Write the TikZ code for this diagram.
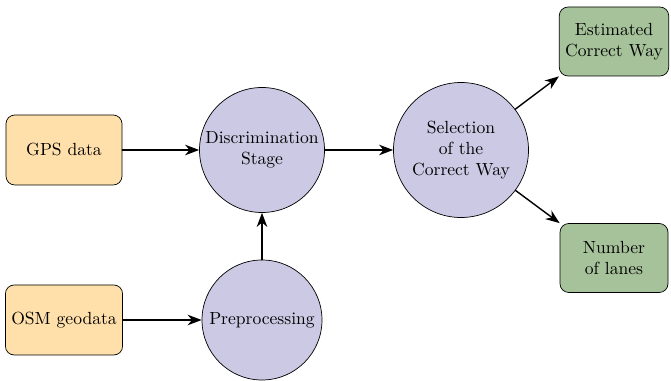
\documentclass[tikz,border=0pt]{standalone}
\usepackage{tikz}
\usetikzlibrary{arrows.meta}
\definecolor{inbox}{RGB}{255,224,170}
\definecolor{stage}{RGB}{204,201,228}
\definecolor{outbox}{RGB}{166,194,154}
\tikzset{
  inputbox/.style={draw=black,fill=inbox,rounded corners=5pt,minimum width=2.32cm,minimum height=1.4cm,align=center},
  outputbox/.style={draw=black,fill=outbox,rounded corners=5pt,minimum width=2.16cm,minimum height=1.38cm,align=center},
  stagecircle/.style={draw=black,fill=stage,circle,minimum size=2.4cm,inner sep=1pt,align=center},
  flow/.style={->,thick,>={Stealth[length=8pt,width=6pt,inset=2.5pt]}}
}
\begin{document}
\begin{tikzpicture}[line cap=round,line join=round,x=1.0cm,y=1.0cm]
    \useasboundingbox (0,0) rectangle (13.42,7.62);
    % inputs
    \node[inputbox] (gps) at (1.28,4.62) {GPS data};
    \node[inputbox] (osm) at (1.28,1.22) {OSM geodata};
    % stages
    \node[stagecircle,minimum size=2.5cm] (disc) at (5.24,4.62) {Discrimination\\Stage};
    \node[stagecircle] (prep) at (5.24,1.22) {Preprocessing};
    \node[stagecircle,minimum size=2.7cm] (sel) at (9.22,4.62) {Selection\\of the\\Correct Way};
    % outputs
    \node[outputbox] (est) at (12.28,6.79) {Estimated\\Correct Way};
    \node[outputbox] (lanes) at (12.28,2.46) {Number\\of lanes};
    % connectors
    \draw[flow] (gps) -- (disc);
    \draw[flow] (osm) -- (prep);
    \draw[flow] (prep) -- (disc);
    \draw[flow] (disc) -- (sel);
    \draw[flow] (sel) -- (est.south west);
    \draw[flow] (sel) -- (lanes.north west);
\end{tikzpicture}
\end{document}
